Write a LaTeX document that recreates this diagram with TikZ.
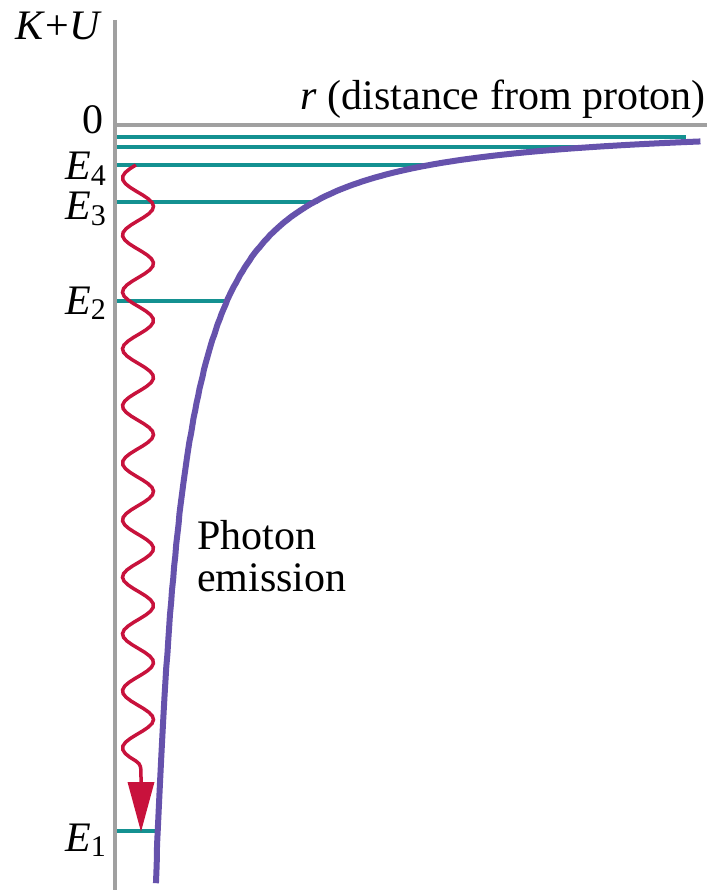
\documentclass[tikz,border=0pt]{standalone}
\usepackage{fontspec}
\setmainfont{Liberation Serif}
\usepackage{tikz}
\usetikzlibrary{arrows.meta}
\definecolor{axisgray}{RGB}{160,160,160}
\definecolor{levelteal}{RGB}{20,145,145}
\definecolor{curvepurple}{RGB}{102,82,172}
\definecolor{photonred}{RGB}{200,18,60}
\newcommand{\lvl}[1]{\textit{E}\kern-0.5pt\raisebox{-0.12em}{\fontsize{30}{30}\selectfont #1}}

\begin{document}
\begin{tikzpicture}[x=1pt, y=-1pt,
  every node/.style={font=\fontsize{42}{46}\selectfont, inner sep=0pt},
  axis/.style={axisgray, line width=4pt},
  level/.style={levelteal, line width=3.5pt},
  potential/.style={curvepurple, line width=6pt},
  photon/.style={photonred, line width=3.5pt}]
\useasboundingbox (0,0) rectangle (713,890);
% axes
\coordinate (O) at (115,125);
\coordinate (top) at (115,20);
\coordinate (bot) at (115,890);
\coordinate (rend) at (707,125);
\draw[axis] (top) -- (bot);
\draw[axis] ([xshift=-2pt]O) -- (rend);
% energy levels
\foreach \y/\xe in {137/686, 147/590, 165/428, 202/318, 301/229, 831/159}
  \draw[level] (117,\y) -- (\xe,\y);
% potential energy curve
\draw[potential] plot[domain=2.80:6.633, samples=150, variable=\t]
  ({116+4150*exp(-0.7*\t)}, {125+exp(\t)});
% photon
\coordinate (tip) at (141,832);
\draw[photon, -{Triangle[length=50pt, width=26pt]}]
  plot[domain=165:761, samples=160, variable=\t] ({138-15.5*cos(6.3158*(\t-178))}, \t)
  .. controls (141,765) .. (141,780) -- (tip);
% labels
\node[anchor=base east] (KU) at (102,40) {\textit{K}+\textit{U}};
\node[anchor=base east] (zero) at (104,134) {0};
\node[anchor=base east] (rlab) at (706,110) {\textit{r} (distance from proton)};
\node[anchor=base east] (E4lab) at (106,180) {\lvl{4}};
\node[anchor=base east] (E3lab) at (106,220) {\lvl{3}};
\node[anchor=base east] (E2lab) at (106,314) {\lvl{2}};
\node[anchor=base east] (E1lab) at (106,851) {\lvl{1}};
\node[anchor=base west] (photon1) at (197,549) {Photon};
\node[anchor=base west] (photon2) at (197,591) {emission};
\end{tikzpicture}
\end{document}
